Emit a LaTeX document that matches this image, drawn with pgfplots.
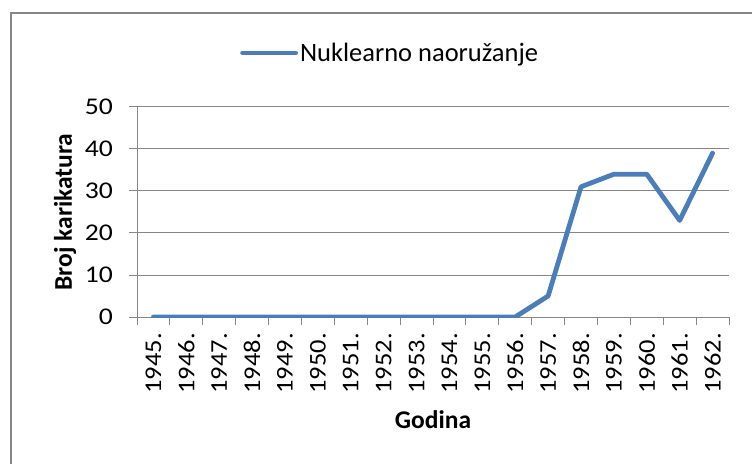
\documentclass[border=0pt]{standalone}
\usepackage{pgfplots}
\pgfplotsset{compat=1.18}
\usepackage{fontspec}
\setmainfont{Carlito}
\definecolor{exblue}{HTML}{4A7EBB}
\definecolor{exgray}{HTML}{868686}
\begin{document}
\begin{tikzpicture}
\useasboundingbox (0,0) rectangle (752pt,463pt);
\draw[color=exgray, line width=2pt] (10.5pt,-10pt) -- (10.5pt,450pt) -- (800pt,450pt);
\begin{axis}[
  at={(137pt,146pt)}, anchor=south west,
  scale only axis, width=592pt, height=210pt,
  xmin=-0.5, xmax=17.5, ymin=0, ymax=50,
  axis x line=bottom, axis y line=left,
  axis line style={exgray, line width=1pt, -},
  xtick={-0.5,0.5,...,17.5},
  x tick label as interval,
  xticklabels={1945.,1946.,1947.,1948.,1949.,1950.,1951.,1952.,1953.,1954.,1955.,1956.,1957.,1958.,1959.,1960.,1961.,1962.},
  ytick={0,10,...,50},
  tick align=outside,
  major tick length=8pt,
  tick style={exgray, line width=1pt},
  ymajorgrids,
  grid style={exgray, line width=1pt},
  /pgf/number format/assume math mode=true,
  ticklabel style={font=\fontsize{24}{24}\selectfont, text=black},
  xticklabel style={yshift=-8pt, rotate=90, xscale=1.1, anchor=east, inner sep=0pt},
  yticklabel style={xshift=-16pt, xscale=1.15, anchor=east, inner sep=0pt},
  xlabel={Godina},
  ylabel={Broj karikatura},
  label style={font=\bfseries\fontsize{25.5}{25.5}\selectfont},
  xlabel style={at={(axis description cs:0.5,-0.490)}, anchor=center},
  ylabel style={at={(axis description cs:-0.1216,0.5)}, anchor=center},
  legend image code/.code={\draw[#1, line cap=round] (0pt,0pt) -- (53pt,0pt);},
  legend style={draw=none, fill=none, at={(axis description cs:0.174,1.257)}, anchor=west,
    inner sep=0pt, font=\fontsize{26.5}{26.5}\selectfont, legend cell align=left},
]
\addplot[exblue, line width=4.8pt, line join=round, line cap=round] coordinates {
 (0,0) (1,0) (2,0) (3,0) (4,0) (5,0) (6,0) (7,0) (8,0) (9,0) (10,0) (11,0)
 (12,5) (13,31) (14,34) (15,34) (16,23) (17,39)
};
\addlegendentry{Nuklearno naoružanje}
\end{axis}
\end{tikzpicture}
\end{document}
